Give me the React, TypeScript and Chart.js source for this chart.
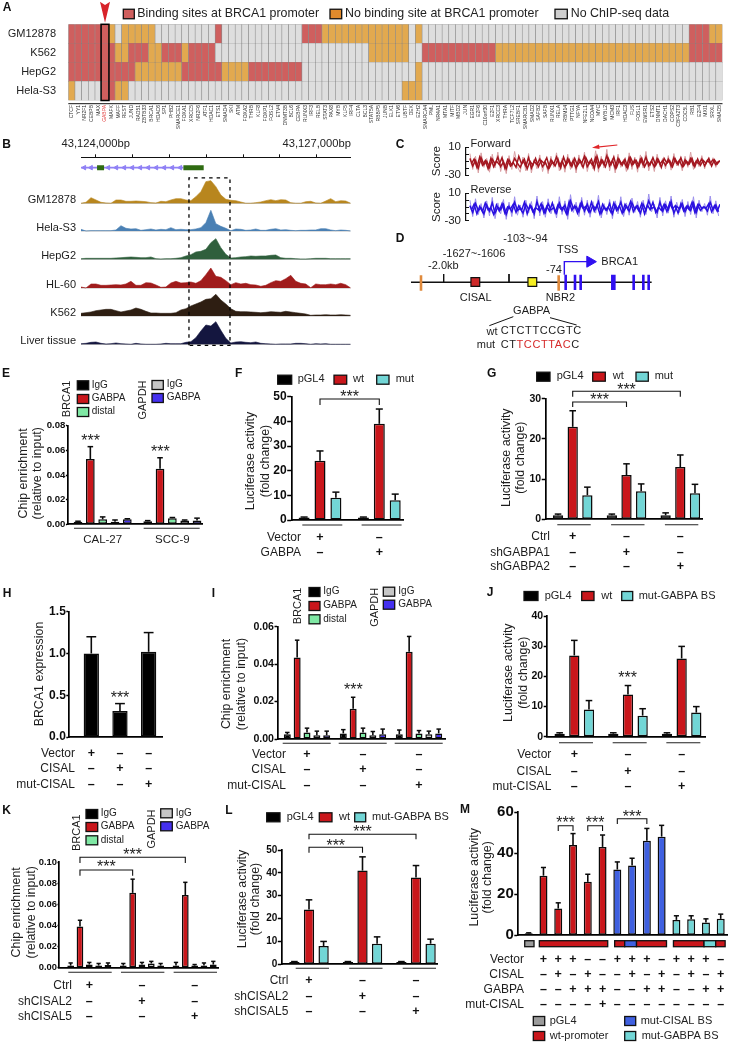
import React, { useEffect, useRef } from "react";
import { Chart, registerables } from "chart.js";
Chart.register(...registerables);

const W = 729, H = 1043;
const FONT = '"Liberation Sans", Arial, sans-serif';
const RED = "#c9161b", TEAL = "#72d6d6", GREEN = "#7fe8a4", GREY = "#c6c6c6", BLUE = "#4530f0", BLACK = "#000000", MBLUE = "#3f60e0";

/* ---------- Panel A data ---------- */
const tfNames = ["CTCF","YY1","NR2F1","CEBPB","MAX","GABPA","MAFK","MAFF","REST","JUND","RAD51","ZBTB33","BRCA1","HDAC6","SP1","PHB2","SMARCE1","FOXA1","XRCC5","NR2F6","ATF1","HDAC1","ETS1","SMAD4","SKI","ATM","FOXA2","THRB","KLF8","FOXP1","FOSL2","ETV4","DNMT3B","BCL6","CEBPA","RUNX3","IRF3","RELB","STAT3","PAX8","MYB","KLF5","IRF4","CLTA","BCL3","STAT5A","RBBP5","JUNB","ELK1","ETV6","UBTF","DEK","EZH2","SMARCA4","PML","NR4A1","MTA1","MITF","MBD2","JUN","EGR1","E2F6","C10orf30","E2F1","XRCC3","THRA","TCF7L2","SREBF1","SMARCB1","SMAD2","SAFB2","SAFB","RUNX1","RELA","RBM14","PTTG1","NFYA","NFE2L1","NCOA4","MYC","MYBL2","MCM3","IRF1","HDAC3","FUS","FOSL1","EWSR1","ETS2","DNMT1","DACH1","COPS2","CBFA2T3","CDC5L","RB1","E2F4","MXI1","SRXL","SMAD5"];
const cellLines = ["Hela-S3","HepG2","K562","GM12878"];
// run-length state lists: [count, state] — R binding, O no binding, G no data
const runsGM: [number,string][] = [[6,"R"],[1,"O"],[1,"G"],[5,"O"],[9,"G"],[1,"R"],[12,"G"],[3,"R"],[13,"O"],[1,"G"],[1,"O"],[40,"G"],[3,"R"],[2,"O"]];
const runsK562: [number,string][] = [[7,"R"],[2,"O"],[3,"R"],[2,"O"],[3,"R"],[1,"O"],[4,"R"],[23,"G"],[6,"O"],[2,"G"],[11,"R"],[29,"O"],[5,"R"]];
const runsHepG2: [number,string][] = [[10,"R"],[7,"O"],[6,"R"],[4,"O"],[8,"R"],[17,"G"],[1,"O"],[45,"G"]];
const runsHela: [number,string][] = [[1,"O"],[4,"G"],[2,"R"],[2,"O"],[41,"G"],[3,"O"],[45,"G"]];
const stateColor: Record<string,string> = { R:"#cf5f5e", O:"#e2a94f", G:"#dedede" };
const expand = (runs:[number,string][]) => runs.flatMap(([n,s]) => Array(n).fill(stateColor[s]));

/* ---------- Panel B data ---------- */
const bpMin = 43123800, bpMax = 43127462;
const trackGM = [0,3,17,10,3,1,0,10,10,6,6,7,6,5,2,1,6,5,10,14,14,10,8,20,35,65,68,50,25,12,9,8,4,0,0,2,4,8,11,8,11,10,2,0,0,5,6,1,0,7,14,5,8,7,0];
const trackHela = [5,0,1,1,1,1,1,3,16,8,6,7,2,4,6,3,5,4,10,4,5,4,4,6,10,25,62,22,14,8,1,6,5,2,3,6,2,2,5,7,3,4,2,1,2,2,3,3,7,7,3,1,3,2,0];
const trackHepG2 = [2,3,3,3,3,3,3,4,5,6,7,6,5,5,7,2,1,2,2,3,5,10,14,22,24,30,50,62,35,15,4,5,7,8,10,9,10,10,12,13,5,3,3,2,1,1,2,3,3,3,2,2,2,2,2];
const trackHL60 = [3,0,12,12,8,8,9,10,9,12,20,8,8,16,15,9,2,3,15,20,15,16,18,14,22,40,60,35,32,22,10,16,12,14,10,9,5,8,16,22,20,28,38,20,14,12,1,12,10,10,12,10,14,10,0];
const trackK562 = [8,10,12,16,18,20,20,16,12,15,18,24,20,14,9,9,8,8,8,10,18,22,30,36,42,50,52,65,48,36,22,14,13,13,12,11,10,11,13,12,11,14,12,10,8,6,2,3,3,4,3,3,4,3,2];
const trackLiver = [2,3,6,7,3,1,2,4,2,1,0,3,1,0,0,0,1,3,2,2,2,6,8,20,40,58,55,68,42,18,4,7,8,6,5,7,3,2,1,0,1,1,1,3,3,2,0,2,1,2,0,0,0,0,0];
const trackNames = ["GM12878","Hela-S3","HepG2","HL-60","K562","Liver tissue"];
const trackBases = [440,357,272,186,102,17];
const trackColors = ["#b8861e","#4a80b4","#2f5f3c","#a01c1c","#2e1e12","#14163f"];
const trackSeries = [trackGM,trackHela,trackHepG2,trackHL60,trackK562,trackLiver];
const chevrons = [43123845,43123936,43124171,43124280,43124388,43124497,43124605,43124714,43124823,43124931,43125040,43125149];
const exons: [number,number][] = [[43124018,43124113],[43125190,43125466]];
const dashedBox = [43125266,43125823,14,516];

/* ---------- Panel C data ---------- */
const forwardCore = [-6,-17,-9,-20,-5,-15,-10,-19,-7,-14,-4,-18,-11,-21,-8,-16,-6,-13,-19,-9,-17,-5,-20,-10,-15,-7,-18,-12,-21,-8,-14,-4,-17,-10,-19,-6,-16,-9,-20,-7,-13,-3,-18,-11,-16,-5,-19,-8,-15,-2,-17,-9,-20,-6,-14,-10,-18,-5,-16,-8,-19,-7,-15,-4,-17,-10,-18,-6,-14,-9,-16,-7,-17,-5,-13,-9,-18,-8,-15,-6,-16,-10,-14,-7,-17,-9,-13,-8,-15,-10];
const forwardCore2 = [-14,-7,-19,-4,-16,-9,-21,-6,-18,-10,-15,-5,-20,-8,-17,-12,-19,-3,-14,-7,-21,-10,-16,-6,-18,-9,-13,-5,-19,-11,-17,-7,-20,-4,-15,-8,-18,-6,-16,-10,-19,-5,-14,-7,-21,-3,-17,-9,-18,-6,-15,-4,-19,-8,-16,-7,-20,-5,-14,-9,-17,-6,-18,-10,-15,-5,-16,-8,-19,-6,-13,-9,-18,-7,-15,-5,-17,-10,-14,-6,-18,-7,-16,-9,-13,-6,-17,-8,-14,-9];
const forwardLight = [1,-22,-3,-27,2,-19,-6,-26,0,-20,3,-25,-8,-28,-2,-22,4,-18,-26,-4,-24,1,-27,-7,-21,-1,-25,-9,-28,-3,-19,2,-24,-6,-26,0,-22,-5,-27,-1,-18,3,-25,-8,-21,5,-26,-3,-20,7,-24,-6,-27,0,-19,-7,-25,2,-22,-4,-26,-1,-20,4,-24,-8,-25,0,-18,-6,-21,-2,-23,1,-17,-7,-24,-3,-19,3,-22,-8,-18,-2,-21,-7,-16,-5,-19,-9];
const reverseCore = [-8,-18,-5,-15,-11,-20,-7,-16,-4,-19,-10,-14,-6,-21,-9,-17,-3,-15,-12,-19,-6,-13,-9,-20,-2,-16,-8,-18,-5,-14,-11,-19,-4,-15,-7,-20,-1,-12,-9,-17,-3,-16,-6,-18,-8,-13,-2,-19,-10,-15,-5,-20,-7,-14,-3,-17,-9,-16,-4,-13,-8,-19,-6,-15,-1,-12,-10,-18,-3,-16,-7,-14,-2,-19,-9,-13,-5,-17,-8,-15,-4,-18,-6,-12,-10,-16,-3,-14,-7,-17];
const reverseCore2 = [-15,-6,-20,-9,-17,-4,-14,-11,-21,-7,-16,-5,-19,-10,-13,-6,-18,-8,-15,-3,-20,-7,-17,-11,-14,-5,-19,-9,-16,-4,-18,-7,-13,-10,-20,-2,-15,-8,-19,-5,-12,-9,-17,-3,-16,-7,-20,-6,-14,-10,-18,-4,-15,-8,-19,-6,-13,-2,-17,-9,-16,-5,-20,-7,-14,-3,-18,-10,-15,-6,-17,-4,-13,-8,-19,-5,-16,-9,-14,-3,-18,-7,-15,-10,-12,-5,-17,-8,-16,-6];
const reverseLight = [0,-24,2,-21,-5,-26,-1,-23,4,-27,-4,-20,1,-28,-3,-24,5,-22,-7,-25,0,-19,-2,-27,6,-23,-2,-25,2,-20,-6,-26,5,-21,-1,-28,8,-18,-3,-24,4,-22,0,-25,-2,-19,7,-26,-5,-21,1,-27,-1,-20,5,-24,-4,-22,3,-18,-2,-25,0,-21,9,-17,-6,-26,4,-23,-1,-19,6,-25,-3,-18,1,-24,-2,-21,5,-26,0,-17,-5,-22,6,-20,-1,-23];

/* ---------- Panel D data (schematic units) ---------- */
const dBlueExons = [557,585,602,761,790,806];
const dWideExon = [700];
const dOrangeMarks = [123,536];
const dTicks = [191,387];

/* ---------- Bar panel data ---------- */
const eGroups = ["CAL-27","SCC-9"];
const eIgG=[0.002,0.0025], eIgGTop=[0.0025,0.003];
const eGabpa=[0.053,0.045], eGabpaTop=[0.063,0.054];
const eDistal=[0.004,0.005], eDistalTop=[0.006,0.0055];
const eIgG2=[0.002,0.003], eIgG2Top=[0.0035,0.0035];
const eGabpa2=[0.004,0.003], eGabpa2Top=[0.0045,0.005];

const fPgl=[1,1], fPglTop=[1.2,1.2];
const fWt=[24,39], fWtTop=[28,45];
const fMut=[9,8], fMutTop=[11.3,10.5];

const gPgl=[1,1,1], gPglTop=[1.3,1.3,1.6];
const gWt=[23,11,13], gWtTop=[27,13.8,16];
const gMut=[6,7,6.5], gMutTop=[8,8.8,8.7];

const hVals=[1.0,0.31,1.02], hTop=[1.2,0.4,1.25];

const iIgG=[0.0025,0.003,0.0025], iIgGTop=[0.0035,0.005,0.0048];
const iGabpa=[0.0436,0.0162,0.0466], iGabpaTop=[0.0528,0.0223,0.0548];
const iDistal=[0.0035,0.0035,0.003], iDistalTop=[0.0058,0.0058,0.0045];
const iIgG2=[0.002,0.002,0.0025], iIgG2Top=[0.0042,0.004,0.0042];
const iGabpa2=[0.002,0.0025,0.003], iGabpa2Top=[0.0042,0.0053,0.0053];

const jPgl=[1,1,1], jPglTop=[1.3,1.3,1.3];
const jWt=[27,14,26], jWtTop=[32,17,30];
const jMut=[9,7,8], jMutTop=[12,9.3,10];

const kIgG=[0.002,0.002,0.002], kIgGTop=[0.0045,0.004,0.005];
const kGabpa=[0.039,0.071,0.069], kGabpaTop=[0.045,0.084,0.081];
const kDistal=[0.003,0.003,0.002], kDistalTop=[0.005,0.005,0.003];
const kIgG2=[0.002,0.004,0.002], kIgG2Top=[0.004,0.006,0.0045];
const kGabpa2=[0.0025,0.002,0.003], kGabpa2Top=[0.0045,0.004,0.006];

const lPgl=[1,1,1], lPglTop=[1.2,1.2,1.2];
const lWt=[24,41,38], lWtTop=[28.2,47,43.2];
const lMut=[8,9,9], lMutTop=[10,12,11];

const mVals=[1,29,13,44,26,43,32,34,46,48,7.5,7.8,6.2,8];
const mTops=[1.2,33,15.8,49.5,29.7,48.8,35.7,37.5,52,53.5,9.5,9.5,8,10.3];
const mSeriesOf=["p","w","w","w","w","w","c","c","c","c","g","g","g","g"];
const mVector=["+","+","+","-","-","+","+","+","-","+","+","+","-"];
const mCisal=["-","+","-","+","-","-","+","-","+","-","+","-","+"];
const mGabpa=["-","-","+","+","+","-","-","+","+","-","-","+","+"];
const mMutCisal=["-","-","-","-","+","-","-","-","-","-","-","-","-"];

/* ---------- drawing helpers ---------- */
type Opt = { size?:number; bold?:boolean; align?:CanvasTextAlign; color?:string; rot?:number; spacing?:number };
function txt(ctx:CanvasRenderingContext2D, s:string, x:number, y:number, o:Opt={}) {
  ctx.save();
  ctx.font = `${o.bold?"bold ":""}${o.size??12}px ${FONT}`;
  ctx.textAlign = o.align ?? "left";
  ctx.textBaseline = "middle";
  ctx.fillStyle = o.color ?? "#1c1c1c";
  if (o.spacing) (ctx as any).letterSpacing = `${o.spacing}px`;
  ctx.translate(x,y);
  if (o.rot) ctx.rotate(o.rot);
  ctx.fillText(s,0,0);
  ctx.restore();
}
function seg(ctx:CanvasRenderingContext2D, pts:number[][], color="#000", lw=1.2) {
  ctx.save(); ctx.strokeStyle=color; ctx.lineWidth=lw; ctx.beginPath();
  pts.forEach((p,i)=> i?ctx.lineTo(p[0],p[1]):ctx.moveTo(p[0],p[1]));
  ctx.stroke(); ctx.restore();
}
function swatch(ctx:CanvasRenderingContext2D,x0:number,x1:number,y:number,color:string,h=9) {
  ctx.save(); ctx.fillStyle=color; ctx.strokeStyle="#111"; ctx.lineWidth=1.3;
  ctx.fillRect(x0,y-h/2,x1-x0,h); ctx.strokeRect(x0,y-h/2,x1-x0,h); ctx.restore();
}
const letter=(ctx:CanvasRenderingContext2D,l:string,x:number,y:number)=>txt(ctx,l,x,y,{bold:true,size:12,align:"center",color:"#111"});

interface Series { name:string; color:string|string[]; values:number[]; tops:number[] }
interface Panel {
  letter:[string,number,number];
  left:number; right:number; top:number; bottom:number;
  yMax:number; yStep:number; dec:number; tickSize:number; tickLen?:number;
  c0:number; S:number; b:number; w:number; n:number;
  series:Series[];
  titles:[string,number][]; titleY:number; titleSize?:number;
  legend?:{s:number;x0:number;x1:number;y:number;lx:number;label?:string;color?:string}[]; legendSize?:number;
  rot?:[string,number,number][];
  rows?:{label:string;y:number;marks:string[]}[]; rowRight?:number; markStart?:number;
  ul?:{lo:number;hi:number;y:number};
  brackets?:{a:[number,number];b:[number,number];y:number;drop:number;starY:number}[];
  stars?:[number,number][];
  groups?:{names:string[];y:number};
  extra?:(c:Chart,ctx:CanvasRenderingContext2D)=>void;
}
const Y_BOX=40;
function barConfig(p:Panel):any {
  const k=p.series.length;
  const idx=Array.from({length:p.n},(_,i)=>i);
  return {
    type:"bar",
    data:{ datasets:p.series.map(s=>({
      label:s.name, data:s.values.map((y,i)=>({x:i,y})), backgroundColor:s.color,
      borderColor:"#0a0a0a", borderWidth:1.5, borderSkipped:false,
      barPercentage:p.w/p.b, categoryPercentage:k*p.b/p.S })) },
    options:{
      responsive:false, animation:false, events:[],
      layout:{autoPadding:false,padding:{left:p.left-Y_BOX,top:p.top,right:W-p.right,bottom:H-p.bottom}},
      plugins:{legend:{display:false},tooltip:{enabled:false},title:{display:false}},
      scales:{
        x:{type:"linear",offset:false,min:-(p.c0-p.left)/p.S,max:(p.right-p.c0)/p.S,
           afterBuildTicks:(s:any)=>{s.ticks=idx.map(v=>({value:v}));},
           afterFit:(s:any)=>{s.height=0;},
           ticks:{display:false,autoSkip:false,callback:()=>""},
           grid:{display:false}, border:{display:true,color:"#000",width:1.7}},
        y:{type:"linear",min:0,max:p.yMax,
           afterFit:(s:any)=>{s.width=Y_BOX;},
           ticks:{stepSize:p.yStep,autoSkip:false,padding:0.5,color:"#0c0c0c",
                  font:{family:FONT,weight:"bold",size:p.tickSize},
                  callback:(v:any)=>Number(v).toFixed(p.dec)},
           grid:{display:true,drawOnChartArea:false,drawTicks:true,tickLength:p.tickLen??3.6,tickColor:"#000",tickWidth:1.5,color:"#000"},
           border:{display:true,color:"#000",width:1.7}}
      }
    },
    plugins:[{
      id:"annot",
      afterDraw(c:any){
        const ctx=c.ctx as CanvasRenderingContext2D; const xs=c.scales.x, ys=c.scales.y;
        const barX=(g:number,s:number)=>xs.getPixelForValue(g+(s-(k-1)/2)*p.b/p.S);
        // error bars
        p.series.forEach((s,si)=>s.tops.forEach((t,g)=>{
          const x=barX(g,si), y0=ys.getPixelForValue(s.values[g]), y1=ys.getPixelForValue(t);
          const cap=p.w*0.32;
          seg(ctx,[[x,y0],[x,y1]],"#0a0a0a",1.6);
          seg(ctx,[[x-cap,y1],[x+cap,y1]],"#0a0a0a",1.5);
        }));
        letter(ctx,p.letter[0],p.letter[1],p.letter[2]);
        p.titles.forEach(([t,x])=>txt(ctx,t,x,p.titleY,{size:p.titleSize??12.4,align:"center",rot:-Math.PI/2}));
        p.legend?.forEach(l=>{
          const s=p.series[l.s];
          swatch(ctx,l.x0,l.x1,l.y,l.color??(s.color as string));
          txt(ctx,l.label??s.name,l.lx,l.y-0.5,{size:p.legendSize??11,color:"#222"});
        });
        p.rot?.forEach(([t,x,y])=>txt(ctx,t,x,y,{size:11,align:"center",rot:-Math.PI/2}));
        p.rows?.forEach(r=>{
          txt(ctx,r.label,p.rowRight!,r.y,{size:12,align:"right"});
          r.marks.forEach((m,i)=>txt(ctx,m==="+"?"+":"\u2013",xs.getPixelForValue(i+(p.markStart??0)),r.y,{size:12.5,bold:true,align:"center",color:"#111"}));
        });
        if(p.ul) for(let g=0;g<p.n;g++){const cx=xs.getPixelForValue(g);seg(ctx,[[cx+p.ul.lo,p.ul.y],[cx+p.ul.hi,p.ul.y]],"#222",1.1);}
        p.brackets?.forEach(br=>{
          const a=barX(br.a[0],br.a[1]), b=barX(br.b[0],br.b[1]);
          seg(ctx,[[a,br.y+br.drop],[a,br.y],[b,br.y],[b,br.y+br.drop]],"#111",1.1);
          txt(ctx,"***",(a+b)/2,br.starY+3,{size:16,align:"center",color:"#222"});
        });
        p.stars?.forEach(([x,y])=>txt(ctx,"***",x,y+3,{size:16,align:"center",color:"#222"}));
        p.groups?.names.forEach((n,g)=>txt(ctx,n,xs.getPixelForValue(g),p.groups!.y,{size:11.5,align:"center"}));
        p.extra?.(c,ctx);
      }
    }]
  };
}

/* ---------- Panel configs ---------- */
const pgl="pGL4", wt="wt", mut="mut", mutBS="mut-GABPA BS";
const panels:Panel[]=[
 { letter:["E",6,374],left:67.7,right:202.7,top:425.7,bottom:524.3,yMax:0.08,yStep:0.02,dec:2,tickSize:9.6,tickLen:1.8,
   c0:102.67,S:69.7,b:12.33,w:8.7,n:2,
   series:[{name:"IgG",color:BLACK,values:eIgG,tops:eIgGTop},{name:"GABPA",color:RED,values:eGabpa,tops:eGabpaTop},{name:"distal",color:GREEN,values:eDistal,tops:eDistalTop},{name:"IgG",color:GREY,values:eIgG2,tops:eIgG2Top},{name:"GABPA",color:BLUE,values:eGabpa2,tops:eGabpa2Top}],
   titles:[["Chip enrichment",23.3],["(relative to input)",37.7]],titleY:473.3,
   legend:[{s:0,x0:77.3,x1:88.7,y:385.3,lx:91.7},{s:1,x0:77.3,x1:88.7,y:399,lx:91.7},{s:2,x0:77.3,x1:88.7,y:412,lx:91.7},{s:3,x0:152,x1:163.3,y:385,lx:166.7},{s:4,x0:152,x1:163.3,y:398,lx:166.7}],legendSize:10,
   rot:[["BRCA1",67.3,399],["GAPDH",142.7,400]],
   ul:{lo:-28.7,hi:27.3,y:528.3},stars:[[90.7,439],[160.3,449.7]],groups:{names:eGroups,y:540}},
 { letter:["F",238.7,374],left:291.7,right:404,top:396.7,bottom:520,yMax:50,yStep:10,dec:0,tickSize:12,tickLen:4.5,
   c0:320,S:59.3,b:15.9,w:11,n:2,
   series:[{name:pgl,color:BLACK,values:fPgl,tops:fPglTop},{name:wt,color:RED,values:fWt,tops:fWtTop},{name:mut,color:TEAL,values:fMut,tops:fMutTop}],
   titles:[["Luciferase activity",251],["(fold change)",265.7]],titleY:461,
   legend:[{s:0,x0:277.7,x1:291.7,y:379.7,lx:297.7},{s:1,x0:334,x1:346.7,y:379.7,lx:353},{s:2,x0:376.7,x1:389,y:379.7,lx:395.7}],
   rows:[{label:"Vector",y:537.7,marks:["+","-"]},{label:"GABPA",y:552.7,marks:["-","+"]}],rowRight:301,
   ul:{lo:-17.7,hi:22.3,y:525},brackets:[{a:[0,1],b:[1,1],y:399,drop:6,starY:395}]},
 { letter:["G",491.7,374],left:545.7,right:702.3,top:398.7,bottom:519.3,yMax:30,yStep:10,dec:0,tickSize:10.5,tickLen:4,
   c0:572.7,S:53.8,b:14.67,w:10.3,n:3,
   series:[{name:pgl,color:BLACK,values:gPgl,tops:gPglTop},{name:wt,color:RED,values:gWt,tops:gWtTop},{name:mut,color:TEAL,values:gMut,tops:gMutTop}],
   titles:[["Luciferase activity",506.3],["(fold change)",520.7]],titleY:457.7,
   legend:[{s:0,x0:536.7,x1:550,y:376.7,lx:556.7},{s:1,x0:592.7,x1:605.3,y:376.7,lx:612.7},{s:2,x0:636,x1:648.3,y:376.7,lx:654.7}],
   rows:[{label:"Ctrl",y:536.7,marks:["+","-","-"]},{label:"shGABPA1",y:552.3,marks:["-","+","-"]},{label:"shGABPA2",y:566.7,marks:["-","-","+"]}],rowRight:550,
   ul:{lo:-15.4,hi:18,y:524.7},brackets:[{a:[0,1],b:[1,1],y:402,drop:5,starY:397.7},{a:[0,1],b:[2,1],y:391.3,drop:5.5,starY:387.3}]},
 { letter:["H",7,593.3],left:69.3,right:162.3,top:611.7,bottom:737,yMax:1.5,yStep:0.5,dec:1,tickSize:12,tickLen:3,
   c0:91.3,S:28.67,b:28.67,w:15.3,n:3,
   series:[{name:"BRCA1 expression",color:BLACK,values:hVals,tops:hTop}],
   titles:[["BRCA1 expression",39.3]],titleY:674,
   rows:[{label:"Vector",y:753.3,marks:["+","-","-"]},{label:"CISAL",y:769,marks:["-","+","-"]},{label:"mut-CISAL",y:784.3,marks:["-","-","+"]}],rowRight:75,
   stars:[[120,696]]},
 { letter:["I",213.3,593.3],left:277.7,right:445.7,top:626.7,bottom:739,yMax:0.06,yStep:0.02,dec:2,tickSize:10.6,tickLen:3.2,
   c0:307,S:56,b:9.85,w:7,n:3,
   series:[{name:"IgG",color:BLACK,values:iIgG,tops:iIgGTop},{name:"GABPA",color:RED,values:iGabpa,tops:iGabpaTop},{name:"distal",color:GREEN,values:iDistal,tops:iDistalTop},{name:"IgG",color:GREY,values:iIgG2,tops:iIgG2Top},{name:"GABPA",color:BLUE,values:iGabpa2,tops:iGabpa2Top}],
   titles:[["Chip enrichment",226.7],["(relative to input)",241.7]],titleY:684,
   legend:[{s:0,x0:309,x1:320,y:592,lx:323.3},{s:1,x0:309,x1:320,y:606,lx:323.3},{s:2,x0:309,x1:320,y:619.3,lx:323.3},{s:3,x0:383.3,x1:394.7,y:591.7,lx:398.3},{s:4,x0:383.3,x1:394.7,y:604.7,lx:398.3}],legendSize:10,
   rot:[["BRCA1",298.3,606],["GAPDH",374.7,607.3]],
   rows:[{label:"Vector",y:754.3,marks:["+","-","-"]},{label:"CISAL",y:770,marks:["-","+","-"]},{label:"mut-CISAL",y:785.3,marks:["-","-","+"]}],rowRight:286,
   ul:{lo:-24.3,hi:23.7,y:743.3},stars:[[353.3,687.7]]},
 { letter:["J",490,593],left:546.7,right:705.7,top:616.3,bottom:736.7,yMax:40,yStep:10,dec:0,tickSize:10.5,tickLen:3,
   c0:574.3,S:53.67,b:14.67,w:10.3,n:3,
   series:[{name:pgl,color:BLACK,values:jPgl,tops:jPglTop},{name:wt,color:RED,values:jWt,tops:jWtTop},{name:mutBS,color:TEAL,values:jMut,tops:jMutTop}],
   titles:[["Luciferase activity",508.7],["(fold change)",523.3]],titleY:672.7,
   legend:[{s:0,x0:524,x1:538,y:596,lx:544.7},{s:1,x0:581.7,x1:594,y:596,lx:601.3},{s:2,x0:621.7,x1:632.7,y:596,lx:638.7}],
   rows:[{label:"Vector",y:754.3,marks:["+","-","-"]},{label:"CISAL",y:771.3,marks:["-","+","-"]},{label:"mut-CISAL",y:786.3,marks:["-","-","+"]}],rowRight:551.3,
   ul:{lo:-15.3,hi:18.7,y:742.7},stars:[[627.7,675.7]]},
 { letter:["K",6.7,811],left:59.3,right:218.3,top:862.3,bottom:967.7,yMax:0.1,yStep:0.02,dec:2,tickSize:9.4,tickLen:1.8,
   c0:89.3,S:52.67,b:9.33,w:6.7,n:3,
   series:[{name:"IgG",color:BLACK,values:kIgG,tops:kIgGTop},{name:"GABPA",color:RED,values:kGabpa,tops:kGabpaTop},{name:"distal",color:GREEN,values:kDistal,tops:kDistalTop},{name:"IgG",color:GREY,values:kIgG2,tops:kIgG2Top},{name:"GABPA",color:BLUE,values:kGabpa2,tops:kGabpa2Top}],
   titles:[["Chip enrichment",16.7],["(relative to input)",31.7]],titleY:912.3,
   legend:[{s:0,x0:86,x1:97.7,y:814,lx:100.7},{s:1,x0:86,x1:97.7,y:827,lx:100.7},{s:2,x0:86,x1:97.7,y:840.3,lx:100.7},{s:3,x0:160.7,x1:172.3,y:813.3,lx:175.7},{s:4,x0:160.7,x1:172.3,y:826.3,lx:175.7}],legendSize:10,
   rot:[["BRCA1",76.7,832.7],["GAPDH",151.7,829]],
   rows:[{label:"Ctrl",y:986,marks:["+","-","-"]},{label:"shCISAL2",y:1001.7,marks:["-","+","-"]},{label:"shCISAL5",y:1017,marks:["-","-","+"]}],rowRight:72,
   ul:{lo:-21,hi:22.4,y:972.3},brackets:[{a:[0,1],b:[1,1],y:870,drop:5.7,starY:864.3},{a:[0,1],b:[2,1],y:857.3,drop:5.7,starY:852.3}]},
 { letter:["L",229,811],left:282,right:437.7,top:850,bottom:964.3,yMax:50,yStep:10,dec:0,tickSize:10,tickLen:4.2,
   c0:309,S:53.5,b:14.6,w:10.3,n:3,
   series:[{name:pgl,color:BLACK,values:lPgl,tops:lPglTop},{name:wt,color:RED,values:lWt,tops:lWtTop},{name:mutBS,color:TEAL,values:lMut,tops:lMutTop}],
   titles:[["Luciferase activity",242.7],["(fold change)",256]],titleY:899,
   legend:[{s:0,x0:266.7,x1:280,y:817.3,lx:286.7},{s:1,x0:319.3,x1:332,y:817.3,lx:339},{s:2,x0:354.7,x1:365.7,y:817.3,lx:372}],
   rows:[{label:"Ctrl",y:980.7,marks:["+","-","-"]},{label:"shCISAL2",y:996.3,marks:["-","+","-"]},{label:"shCISAL5",y:1011.7,marks:["-","-","+"]}],rowRight:288.3,
   ul:{lo:-13.3,hi:20,y:968.3},brackets:[{a:[0,1],b:[1,1],y:847.3,drop:5.4,starY:843.3},{a:[0,1],b:[2,1],y:834.3,drop:5,starY:829.3}]},
 { letter:["M",465,810],left:518.3,right:727.3,top:812,bottom:935.3,yMax:60,yStep:20,dec:0,tickSize:15,tickLen:4,
   c0:528.7,S:14.77,b:14.77,w:8,n:14,
   series:[{name:"Luciferase activity",color:mSeriesOf.map(s=>({p:"#111111",w:RED,c:MBLUE,g:TEAL} as any)[s]),values:mVals,tops:mTops}],
   titles:[["Luciferase activity",474.3],["(fold change)",487.3]],titleY:877.3,
   rows:[{label:"Vector",y:959.3,marks:mVector},{label:"CISAL",y:974.3,marks:mCisal},{label:"GABPA",y:989.3,marks:mGabpa},{label:"mut-CISAL",y:1005,marks:mMutCisal}],rowRight:524,markStart:1,
   brackets:[{a:[2,0],b:[3,0],y:825.7,drop:5.3,starY:820.7},{a:[4,0],b:[5,0],y:825.7,drop:5.3,starY:820.7},{a:[6,0],b:[8,0],y:818.7,drop:5.3,starY:814.3}],
   legend:[{s:0,x0:533.3,x1:544.7,y:1021,lx:549.7,label:"pGL4",color:"#9b9b9b"},{s:0,x0:533.3,x1:544.7,y:1036,lx:549.7,label:"wt-promoter",color:RED},{s:0,x0:624.7,x1:635.7,y:1021,lx:640.7,label:"mut-CISAL BS",color:MBLUE},{s:0,x0:624.7,x1:635.7,y:1036,lx:641.7,label:"mut-GABPA BS",color:TEAL}],
   extra:(c:any,ctx)=>{
     const xs=c.scales.x;
     const strip:[number,number,string][]=[[-0.27,0.36,"#9b9b9b"],[0.72,5.35,RED],[5.82,6.5,RED],[6.5,7.3,MBLUE],[7.3,9.33,RED],[9.8,11.87,RED],[11.87,12.66,TEAL],[12.66,13.3,RED]];
     strip.forEach(([a,b,col])=>swatch(ctx,xs.getPixelForValue(a),xs.getPixelForValue(b),943.7,col,6));
   }},
];

/* ---------- Panel A ---------- */
const heatConfig:any={
  type:"bar",
  data:{labels:tfNames,datasets:[runsHela,runsHepG2,runsK562,runsGM].map((r,i)=>({
    label:cellLines[i],data:tfNames.map(()=>1),backgroundColor:expand(r),
    borderColor:"rgba(125,125,125,0.85)",borderWidth:{left:0.6,right:0.6,top:0.25,bottom:0.25},borderSkipped:false,
    barPercentage:1,categoryPercentage:1}))},
  options:{
    responsive:false,animation:false,events:[],
    layout:{autoPadding:false,padding:{left:8.3,top:24.3,right:W-722.5,bottom:H-132.5}},
    plugins:{legend:{display:false},tooltip:{enabled:false}},
    scales:{
      x:{stacked:true,afterFit:(s:any)=>{s.height=32;},grid:{display:false},border:{display:false},
         ticks:{autoSkip:false,minRotation:90,maxRotation:90,padding:-3.5,font:{family:FONT,size:5},
                color:(c:any)=>c.index===5?"#e23b3b":"#2c2c2c"}},
      y:{stacked:true,min:0,max:4,afterFit:(s:any)=>{s.width=60;},grid:{display:false},border:{display:false},
         afterBuildTicks:(s:any)=>{s.ticks=[0.5,1.5,2.5,3.5].map(v=>({value:v}));},
         ticks:{autoSkip:false,padding:4.3,color:"#222",font:{family:FONT,size:11},callback:(v:any)=>cellLines[Math.floor(v)]}}
    }
  },
  plugins:[{id:"a",afterDraw(c:any){
    const ctx=c.ctx as CanvasRenderingContext2D; const x=c.scales.x,a=c.chartArea;
    letter(ctx,"A",7,8);
    seg(ctx,[[a.left,103.7],[a.right,103.7]],"#111",1);
    const cx=x.getPixelForValue(5), hw=(x.getPixelForValue(1)-x.getPixelForValue(0))/2+0.6;
    ctx.save();ctx.strokeStyle="#000";ctx.lineWidth=1.5;ctx.strokeRect(cx-hw,a.top,2*hw,a.bottom-a.top);ctx.restore();
    ctx.save();ctx.fillStyle="#d8232a";ctx.beginPath();ctx.moveTo(cx-5,1.7);ctx.lineTo(cx,5);ctx.lineTo(cx+5,1.7);ctx.lineTo(cx,22.7);ctx.closePath();ctx.fill();ctx.restore();
    const legs:[number,number,string,number,string][]=[[123.3,134.3,stateColor.R,137.3,"Binding sites at BRCA1 promoter"],[330,341.7,"#e08a2c",345,"No binding site at BRCA1 promoter"],[555,567.3,"#cfcfcf",570.7,"No ChIP-seq data"]];
    legs.forEach(([a0,a1,col,lx,t])=>{swatch(ctx,a0,a1,14,col,9.5);txt(ctx,t,lx,14,{size:12.4,color:"#222"});});
  }}]
};

/* ---------- Panel B ---------- */
const grid=(n:number)=>Array.from({length:n},(_,i)=>bpMin+i*(bpMax-bpMin)/(n-1));
const trackDatasets=trackSeries.flatMap((vals,i)=>{
  const xs=grid(vals.length); const base=trackBases[i];
  return [
    {data:[{x:bpMin,y:base},{x:bpMax,y:base}],borderColor:"#b4b4b4",borderWidth:1,pointRadius:0,fill:false,order:3},
    {data:vals.map((v,j)=>({x:xs[j],y:base+v})),borderColor:trackColors[i],backgroundColor:trackColors[i],borderWidth:0.6,pointRadius:0,fill:{value:base},order:2,tension:0}
  ];
});
const GENE_Y=547;
const trackConfig:any={
  type:"line",
  data:{datasets:[
    {data:[{x:dashedBox[0],y:dashedBox[2]},{x:dashedBox[0],y:dashedBox[3]},{x:dashedBox[1],y:dashedBox[3]},{x:dashedBox[1],y:dashedBox[2]},{x:dashedBox[0],y:dashedBox[2]}],
     borderColor:"#000",borderWidth:1.3,borderDash:[3.5,4],pointRadius:0,fill:false,order:0},
    ...exons.map(e=>({data:[{x:e[0],y:GENE_Y},{x:e[1],y:GENE_Y}],borderColor:"#2f6b12",borderWidth:5,pointRadius:0,fill:false,order:1,borderCapStyle:"butt"})),
    {data:chevrons.map(x=>({x,y:GENE_Y})),showLine:false,pointStyle:"triangle",rotation:-90,pointRadius:2.6,pointBackgroundColor:"#8f80f5",pointBorderColor:"#8f80f5",order:1.5},
    {data:[{x:bpMin,y:GENE_Y},{x:43125190,y:GENE_Y}],borderColor:"#8f80f5",borderWidth:1.6,pointRadius:0,fill:false,order:1.6},
    ...trackDatasets
  ]},
  options:{
    responsive:false,animation:false,events:[],
    layout:{autoPadding:false,padding:{left:81,top:127.3,right:W-350.7,bottom:H-350}},
    plugins:{legend:{display:false},tooltip:{enabled:false}},
    scales:{
      x:{type:"linear",position:"top",min:bpMin,max:bpMax,afterFit:(s:any)=>{s.height=30;},
         afterBuildTicks:(s:any)=>{const t=[];for(let v=43124000;v<=43127000;v+=500)t.push({value:v});s.ticks=t;},
         ticks:{autoSkip:false,maxRotation:0,padding:3.5,color:"#222",font:{family:FONT,size:11.2},
                callback:(v:any)=>(v===43124000||v===43127000)?`${Number(v).toLocaleString("en-US")}bp`:""},
         grid:{display:true,drawOnChartArea:false,tickLength:3,tickColor:"#111",tickWidth:1},
         border:{display:true,color:"#111",width:1}},
      y:{display:false,min:0,max:578}
    }
  },
  plugins:[{id:"b",afterDraw(c:any){
    const ctx=c.ctx as CanvasRenderingContext2D; const y=c.scales.y;
    letter(ctx,"B",6.7,145);
    trackNames.forEach((n,i)=>txt(ctx,n,76,y.getPixelForValue(trackBases[i])-3.5,{size:11,align:"right"}));
  }}]
};

/* ---------- Panel C ---------- */
function traceConfig(core:number[],core2:number[],light:number[],dark:string,pale:string,top:number,bottom:number,name:string,extra?:(ctx:CanvasRenderingContext2D)=>void,lett?:[string,number,number]):any{
  return {
    type:"line",
    data:{datasets:[
      {data:core.map((y,x)=>({x,y})),borderColor:dark,borderWidth:1.5,pointRadius:0,tension:0},
      {data:core2.map((y,x)=>({x:x+0.5,y})),borderColor:dark,borderWidth:1.5,pointRadius:0,tension:0},
      {data:light.map((y,x)=>({x,y})),borderColor:pale,borderWidth:1,pointRadius:0,tension:0}
    ]},
    options:{
      responsive:false,animation:false,events:[],
      layout:{autoPadding:false,padding:{left:426,top,right:W-720,bottom:H-bottom}},
      plugins:{legend:{display:false},tooltip:{enabled:false}},
      scales:{
        x:{type:"linear",display:false,min:-1.4,max:core.length-0.5},
        y:{min:-30,max:10,afterFit:(s:any)=>{s.width=40;},
           ticks:{stepSize:10,autoSkip:false,padding:8,color:"#222",font:{family:FONT,size:11.5},callback:(v:any)=>(v===10||v===-30)?String(v):""},
           grid:{display:true,drawOnChartArea:false,tickLength:-3,tickColor:"#111",tickWidth:1},
           border:{display:true,color:"#111",width:1.2}}
      }
    },
    plugins:[{id:"c",afterDraw(c:any){
      const ctx=c.ctx as CanvasRenderingContext2D;
      txt(ctx,"Score",437,(top+bottom)/2,{size:11.5,align:"center",rot:-Math.PI/2});
      txt(ctx,name,470.5,top-3.5,{size:11});
      if(lett) letter(ctx,lett[0],lett[1],lett[2]);
      extra?.(ctx);
    }}]
  };
}
const forwardConfig=traceConfig(forwardCore,forwardCore2,forwardLight,"#a3161f","#d9a0a4",147.3,175,"Forward",(ctx)=>{
  seg(ctx,[[617.3,145],[597,147.2]],"#e0262a",1.2);
  ctx.save();ctx.fillStyle="#e0262a";ctx.beginPath();ctx.moveTo(592,147.7);ctx.lineTo(599,144.6);ctx.lineTo(599.5,149);ctx.closePath();ctx.fill();ctx.restore();
},["C",400,145]);
const reverseConfig=traceConfig(reverseCore,reverseCore2,reverseLight,"#2a10e0","#9c90ec",193.3,220.7,"Reverse");

/* ---------- Panel D ---------- */
const vbar=(x:number,y0:number,y1:number,color:string,w:number)=>({data:[{x,y:y0},{x,y:y1}],borderColor:color,borderWidth:w,pointRadius:0,borderCapStyle:"butt"});
const schematicConfig:any={
  type:"line",
  data:{datasets:[
    {data:[{x:553,y:434},{x:553,y:395},{x:625,y:395}],borderColor:"#3010f0",borderWidth:1.4,pointRadius:0},
    {data:[{x:630,y:395}],showLine:false,pointStyle:"triangle",rotation:90,pointRadius:6.4,pointBackgroundColor:"#3010f0",pointBorderColor:"#3010f0"},
    {data:[{x:286,y:456}],showLine:false,pointStyle:"rect",pointRadius:6.2,pointBackgroundColor:"#cf2a2a",pointBorderColor:"#111",pointBorderWidth:1.2},
    {data:[{x:457,y:456}],showLine:false,pointStyle:"rect",pointRadius:6.2,pointBackgroundColor:"#f5ee22",pointBorderColor:"#111",pointBorderWidth:1.2},
    ...dBlueExons.map(x=>vbar(x,434,480,"#3010f0",2.6)),
    ...dWideExon.map(x=>vbar(x,434,480,"#3010f0",4.6)),
    ...dOrangeMarks.map(x=>vbar(x,436,482,"#e08a3c",2.6)),
    ...dTicks.map(x=>vbar(x,432,457,"#111",1)),
    {data:[{x:93,y:457},{x:815,y:457}],borderColor:"#111",borderWidth:1.5,pointRadius:0},
    {data:[{x:328,y:587},{x:400,y:560}],borderColor:"#111",borderWidth:1,pointRadius:0},
    {data:[{x:510,y:563},{x:590,y:585}],borderColor:"#111",borderWidth:1,pointRadius:0},
  ]},
  options:{
    responsive:false,animation:false,events:[],
    layout:{autoPadding:false,padding:{left:380,top:130,right:0,bottom:H-355}},
    plugins:{legend:{display:false},tooltip:{enabled:false}},
    scales:{x:{type:"linear",display:false,min:0,max:1047},y:{display:false,min:0,max:675,reverse:true}}
  },
  plugins:[{id:"d",afterDraw(c:any){
    const ctx=c.ctx as CanvasRenderingContext2D; const X=(v:number)=>c.scales.x.getPixelForValue(v),Y=(v:number)=>c.scales.y.getPixelForValue(v);
    letter(ctx,"D",400,239);
    const labels:[string,number,number,CanvasTextAlign][]=[["-2.0kb",190,408,"center"],["-1627~-1606",282,371,"center"],["-103~-94",436,328,"center"],["TSS",563,359,"center"],["BRCA1",664,396,"left"],["-74",522,421,"center"],["CISAL",287,503,"center"],["NBR2",541,505,"center"],["GABPA",455,543,"center"],["wt",336,605,"center"],["mut",318,645,"center"]];
    labels.forEach(([t,x,y,al])=>txt(ctx,t,X(x),Y(y),{size:11,align:al}));
    txt(ctx,"CTCTTCCGTC",X(362),Y(603),{size:11,spacing:0.6});
    let px=X(362);
    ([["CT","#1c1c1c"],["TCCTTAC","#d62a2a"],["C","#1c1c1c"]] as [string,string][]).forEach(([t,col])=>{
      txt(ctx,t,px,Y(645),{size:11,color:col,spacing:0.6});
      ctx.save();ctx.font=`11px ${FONT}`;px+=ctx.measureText(t).width+0.6*t.length;ctx.restore();
    });
  }}]
};

/* ---------- React ---------- */
function Layer({config}:{config:any}){
  const ref=useRef<HTMLCanvasElement>(null);
  useEffect(()=>{
    const chart=new Chart(ref.current!,config);
    return ()=>chart.destroy();
  },[config]);
  return <canvas ref={ref} width={W} height={H} style={{position:"absolute",left:0,top:0,width:W,height:H,pointerEvents:"none"}}/>;
}
const allConfigs=[heatConfig,trackConfig,forwardConfig,reverseConfig,schematicConfig,...panels.map(barConfig)];
export default function App(){
  return <div style={{position:"absolute",left:0,top:0,width:W,height:H,background:"#fff",overflow:"hidden"}}>
    {allConfigs.map((c,i)=><Layer key={i} config={c}/>)}
  </div>;
}
